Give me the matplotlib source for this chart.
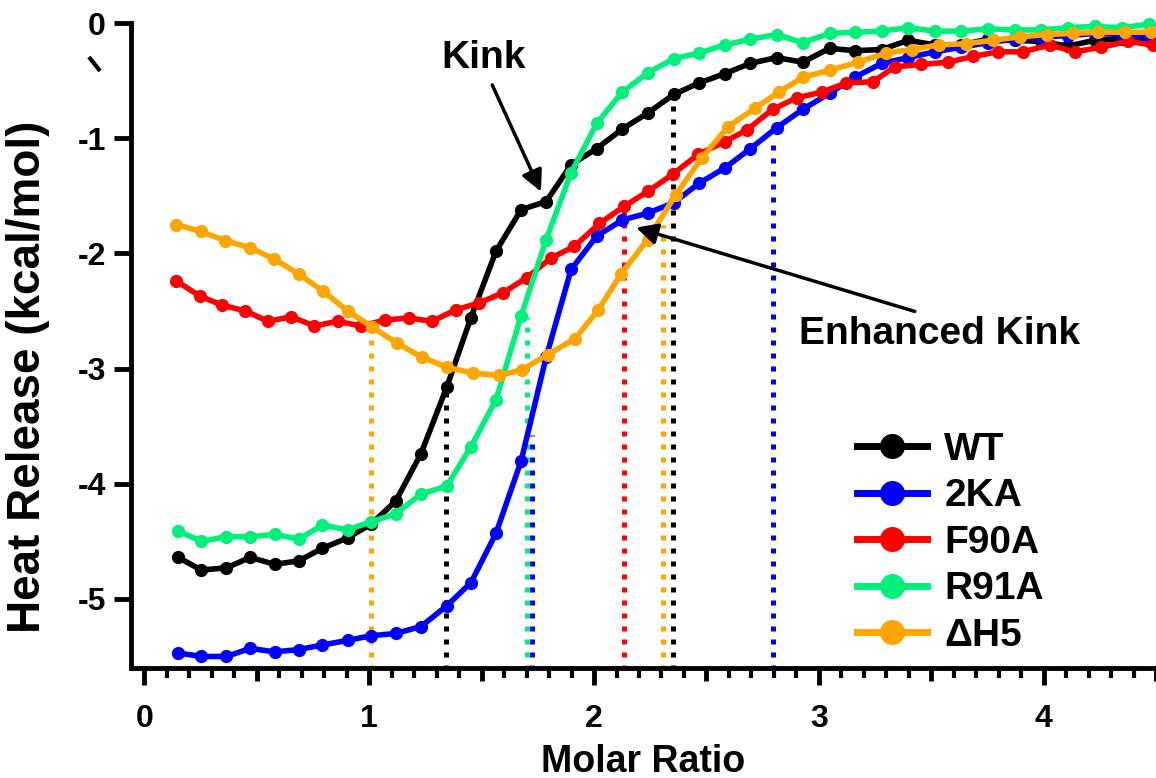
import matplotlib
matplotlib.use("Agg")
import matplotlib.pyplot as plt
from matplotlib.lines import Line2D
from matplotlib.ticker import FuncFormatter, MultipleLocator

plt.rcParams["font.family"] = ["Liberation Sans", "DejaVu Sans"]
plt.rcParams["font.weight"] = "bold"
plt.rcParams["axes.unicode_minus"] = False

# molar ratio of each injection (WT, 2KA and R91A share one titration grid)
ratio_a = [0.150, 0.253, 0.364, 0.471, 0.579, 0.686, 0.792, 0.904, 1.009, 1.118,
           1.230, 1.345, 1.452, 1.564, 1.676, 1.787, 1.898, 2.012, 2.126, 2.240,
           2.355, 2.468, 2.581, 2.696, 2.812, 2.928, 3.048, 3.161, 3.280, 3.398,
           3.516, 3.634, 3.752, 3.871, 3.989, 4.107, 4.228, 4.347, 4.469]
ratio_f90a = [0.142, 0.246, 0.345, 0.449, 0.550, 0.653, 0.756, 0.859, 0.963, 1.068,
              1.175, 1.279, 1.385, 1.490, 1.597, 1.701, 1.809, 1.912, 2.024, 2.135,
              2.241, 2.352, 2.464, 2.582, 2.679, 2.794, 2.901, 3.012, 3.123, 3.241,
              3.338, 3.456, 3.575, 3.686, 3.797, 3.908, 4.027, 4.138, 4.256, 4.375,
              4.486]
ratio_dh5 = [0.142, 0.251, 0.360, 0.469, 0.578, 0.687, 0.796, 0.904, 1.013, 1.124,
             1.233, 1.347, 1.462, 1.578, 1.680, 1.793, 1.916, 2.019, 2.120, 2.238,
             2.364, 2.480, 2.596, 2.716, 2.822, 2.930, 3.049, 3.173, 3.301, 3.413,
             3.533, 3.653, 3.773, 3.893, 4.013, 4.129, 4.244, 4.360, 4.476]

# heat release, kcal/mol
heat_wt = [-4.64, -4.75, -4.73, -4.64, -4.70, -4.67, -4.56, -4.47, -4.35, -4.15,
           -3.74, -3.16, -2.56, -1.98, -1.62, -1.55, -1.23, -1.09, -0.92, -0.78,
           -0.62, -0.52, -0.44, -0.35, -0.30, -0.34, -0.22, -0.24, -0.23, -0.15,
           -0.19, -0.19, -0.14, -0.15, -0.16, -0.20, -0.15, -0.14, -0.16]
heat_2ka = [-5.47, -5.50, -5.50, -5.43, -5.46, -5.44, -5.40, -5.36, -5.32, -5.30,
            -5.24, -5.06, -4.86, -4.43, -3.80, -2.90, -2.14, -1.85, -1.71, -1.65,
            -1.56, -1.39, -1.26, -1.09, -0.91, -0.75, -0.61, -0.47, -0.35, -0.30,
            -0.25, -0.21, -0.17, -0.14, -0.12, -0.11, -0.09, -0.10, -0.12]
heat_f90a = [-2.24, -2.37, -2.45, -2.50, -2.59, -2.55, -2.63, -2.59, -2.63, -2.58,
             -2.56, -2.59, -2.49, -2.43, -2.34, -2.21, -2.04, -1.94, -1.74, -1.59,
             -1.46, -1.31, -1.14, -1.03, -0.93, -0.75, -0.65, -0.60, -0.52, -0.51,
             -0.38, -0.36, -0.34, -0.29, -0.25, -0.25, -0.19, -0.25, -0.21, -0.16,
             -0.19]
heat_r91a = [-4.41, -4.50, -4.46, -4.46, -4.44, -4.48, -4.36, -4.40, -4.33, -4.26,
             -4.09, -4.02, -3.68, -3.27, -2.54, -1.88, -1.30, -0.87, -0.60, -0.43,
             -0.31, -0.26, -0.19, -0.14, -0.10, -0.17, -0.09, -0.08, -0.07, -0.04,
             -0.07, -0.07, -0.05, -0.06, -0.06, -0.04, -0.03, -0.04, -0.01]
heat_dh5 = [-1.75, -1.81, -1.89, -1.95, -2.05, -2.18, -2.33, -2.50, -2.64, -2.78,
            -2.90, -2.99, -3.04, -3.06, -3.01, -2.88, -2.74, -2.49, -2.18, -1.88,
            -1.49, -1.17, -0.90, -0.74, -0.60, -0.47, -0.41, -0.34, -0.26, -0.23,
            -0.19, -0.18, -0.15, -0.12, -0.10, -0.09, -0.08, -0.08, -0.08]

labels = ["WT", "2KA", "F90A", "R91A", "ΔH5"]
colors = ["#000000", "#0000ff", "#ff0000", "#00f07c", "#ffa500"]

# dotted drop lines (inflection points) and the heat where each one starts
drop_x = [1.01, 1.342, 1.70, 1.723, 2.133, 2.305, 2.35, 2.797]
drop_top = [-2.64, -3.16, -2.55, -3.58, -1.63, -1.75, -0.66, -1.00]
drop_color = ["#ffa500", "#000000", "#00f07c", "#0000ff", "#ff0000", "#ffa500", "#000000", "#0000ff"]

fig = plt.figure(figsize=(11.56, 7.78), dpi=100)
ax = fig.add_axes([0.1133, 0.1414, 0.8867, 0.829])

for x, top, c in zip(drop_x, drop_top, drop_color):
    ax.plot([x, x], [-5.62, top], color=c, lw=3.6, linestyle=(0, (1, 1.6)),
            zorder=2, clip_on=False)

series = [
    (ratio_a, heat_wt),
    (ratio_a, heat_2ka),
    (ratio_f90a, heat_f90a),
    (ratio_a, heat_r91a),
    (ratio_dh5, heat_dh5),
]
for (xs, ys), c in zip(series, colors):
    ax.plot(xs, ys, "-o", color=c, lw=4, ms=8.5, clip_on=False, zorder=3)

ax.set_xlim(-0.06, 4.5)
ax.set_ylim(-5.6, 0)

for side in ("top", "right"):
    ax.spines[side].set_visible(False)
for side in ("left", "bottom"):
    ax.spines[side].set_linewidth(3.5)

ax.xaxis.set_major_locator(MultipleLocator(0.5))
ax.xaxis.set_minor_locator(MultipleLocator(0.1))
ax.xaxis.set_major_formatter(
    FuncFormatter(lambda v, p: f"{v:.0f}" if abs(v - round(v)) < 1e-6 else ""))
ax.yaxis.set_major_locator(MultipleLocator(1))
ax.tick_params(axis="x", which="major", length=12, width=3.5, labelsize=23, pad=14)
ax.tick_params(axis="x", which="minor", length=7, width=3)
ax.tick_params(axis="y", which="major", length=12, width=3.5, labelsize=23, pad=6)
for loc, tick in zip(ax.xaxis.get_majorticklocs(), ax.xaxis.get_major_ticks()):
    if abs(loc - round(loc)) > 1e-6:
        tick.tick1line.set_markersize(9)

ax.set_xlabel("Molar Ratio", fontsize=27, fontweight="bold", labelpad=7)
ax.set_ylabel("Heat Release (kcal/mol)", fontsize=33, fontweight="bold")
ax.yaxis.set_label_coords(-0.079, 0.451)

arrow = dict(arrowstyle="-|>", color="black", lw=2.5, mutation_scale=32, shrinkA=0, shrinkB=0)
ax.text(1.507, -0.30, "Kink", ha="center", va="center", fontsize=28, fontweight="bold")
ax.annotate("", xy=(1.764, -1.464), xytext=(1.547, -0.537), arrowprops=arrow, zorder=5)
ax.text(3.538, -2.70, "Enhanced Kink", ha="center", va="center", fontsize=28,
        fontweight="bold")
ax.annotate("", xy=(2.187, -1.776), xytext=(3.427, -2.504), arrowprops=arrow, zorder=5)

# small stray mark left of the y axis in the original figure
fig.add_artist(Line2D([89, 100], [721, 707], transform=None, color="black", lw=3,
                      solid_capstyle="butt"))

handles = [Line2D([], [], color=c, lw=5, marker="o", ms=17) for c in colors]
ax.legend(handles, labels, loc="upper left", bbox_to_anchor=(0.708, 0.366),
          frameon=False, fontsize=28, handlelength=1.8, handletextpad=0.45,
          labelspacing=0.27, borderpad=0, borderaxespad=0)

fig.savefig("out.png", dpi=100)
